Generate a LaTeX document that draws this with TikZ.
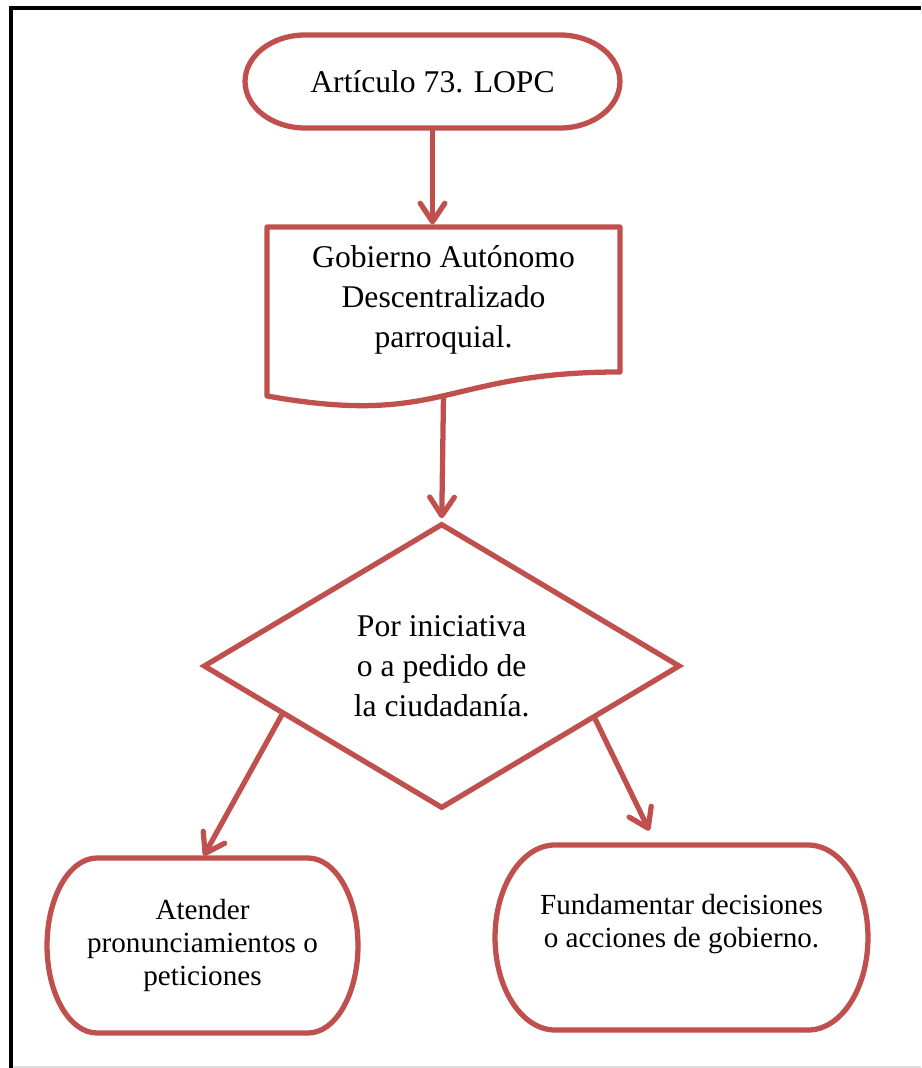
\documentclass[tikz,border=0pt]{standalone}
\usepackage{fontspec}
\setmainfont{Liberation Serif}
\usetikzlibrary{arrows.meta,positioning,calc,shapes.geometric}
\definecolor{flowred}{RGB}{192,80,77}

\tikzset{
  flowline/.style={draw=flowred, line width=3pt, line join=round, line cap=round},
  flowarrow/.style={flowred, line width=3pt, -{Straight Barb[length=10.5pt,width=14pt,round]}, shorten >=1.5pt},
  bigtext/.style={font=\fontsize{18}{22.8}\selectfont, align=center},
  smalltext/.style={font=\fontsize{16.6}{18.8}\selectfont, align=center},
  termbox/.style={rectangle, inner sep=0pt, outer sep=0pt},
}

% terminator outline: node, end radius x, end radius y
\newcommand{\termoutline}[3]{%
  \draw[flowline] ($(#1.north west)+(#2,0)$) -- ($(#1.north east)+(-#2,0)$)
    arc[start angle=90,end angle=-90,x radius=#2,y radius=#3]
    -- ($(#1.south west)+(#2,0)$)
    arc[start angle=270,end angle=90,x radius=#2,y radius=#3] -- cycle;}

\begin{document}
\begin{tikzpicture}[x=0.02cm,y=0.02cm]
    \useasboundingbox (0,0) rectangle (921,-1068);
    % frame
    \draw[line width=2.8pt, black] (11,-1068) -- (11,-8) -- (921,-8);
    \draw[gray!25, line width=0.6pt] (13,-1067) -- (921,-1067);
    % start
    \node[termbox, bigtext, minimum width=7.5cm, minimum height=1.86cm] (lopc) at (432.5,-81.5) {Artículo 73. LOPC};
    \termoutline{lopc}{60}{46.5}
    % document
    \node[termbox, bigtext, minimum width=7.06cm, minimum height=2.9cm] (gad) at (443.5,-299.5) {Gobierno Autónomo\\Descentralizado\\parroquial.};
    \draw[flowline] (gad.north west) -- (gad.north east) -- (gad.south east)
      .. controls (gad.south) and ($(gad.south)+(0,-55.5)$) .. ($(gad.south west)+(0,-24)$)
      coordinate[pos=0.5] (gadfoot) -- cycle;
    % decision
    \node[diamond, draw=flowred, line width=3pt, inner sep=0pt, minimum width=9.54cm, minimum height=5.7cm, bigtext] (dec) at (441.7,-666) {Por iniciativa\\o a pedido de\\la ciudadanía.};
    % outcomes
    \node[termbox, smalltext, minimum width=6.22cm, minimum height=3.5cm] (atender) at (202.5,-945.5) {Atender\\pronunciamientos o\\peticiones};
    \termoutline{atender}{50}{87.5}
    \node[termbox, smalltext, minimum width=7.46cm, minimum height=3.7cm] (fund) at (681.5,-937.5) {Fundamentar decisiones\\o acciones de gobierno.\\ \mbox{}};
    \termoutline{fund}{60}{92.5}
    % arrows
    \draw[flowarrow] (lopc.south) -- (lopc.south |- gad.north);
    \draw[flowarrow] (gadfoot) -- (dec.north);
    \draw[flowarrow] (dec.197) -- (atender.north);
    \draw[flowarrow] (dec.341) -- ($(fund.north)+(-31,12)$);
\end{tikzpicture}
\end{document}
